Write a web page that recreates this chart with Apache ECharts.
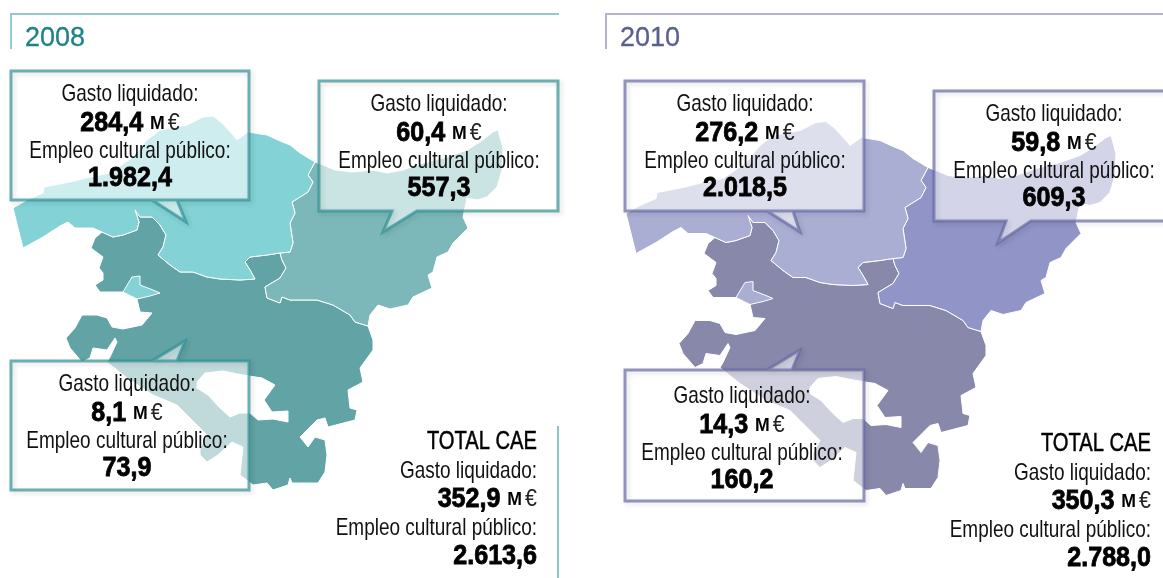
<!DOCTYPE html>
<html lang="es">
<head>
<meta charset="utf-8">
<title>Gasto liquidado y empleo cultural público</title>
<script src="https://cdn.jsdelivr.net/npm/echarts@6/dist/echarts.min.js"></script>
<style>
html, body { margin: 0; padding: 0; background: #fff; }
#main { width: 1163px; height: 578px; }
</style>
</head>
<body>
<div id="main"></div>
<script>
// datos
var years = ['2008', '2010'];
var regions = ['Bizkaia', 'Gipuzkoa', 'Araba'];
var gasto2008 = [284.4, 60.4, 8.1];
var empleo2008 = [1982.4, 557.3, 73.9];
var gasto2010 = [276.2, 59.8, 14.3];
var empleo2010 = [2018.5, 609.3, 160.2];
var totalGasto = [352.9, 350.3];
var totalEmpleo = [2613.6, 2788.0];

// contornos (base cartografica, x / y de la imagen)
var bizkaiaOutline = [[13,208],[27,200],[43,193],[44,187],[70,182],[90,177],[110,173],[133,157],[147,140],[160,130],[187,125],[203,117],[213,116],[222,123],[233,135],[237,140],[248,132],[267,135],[280,141],[290,145],[300,153],[315,162],[308,175],[313,182],[308,192],[292,202],[295,213],[290,223],[293,243],[290,252],[280,253],[267,255],[250,257],[245,262],[250,270],[255,279],[240,280],[220,279],[207,277],[193,272],[180,272],[170,265],[158,255],[163,247],[166,235],[160,225],[152,217],[140,217],[135,210],[139,222],[137,230],[123,235],[113,237],[102,232],[93,228],[75,228],[68,222],[60,226],[43,237],[23,248]];
var bizkaiaEnclave = [[123,292],[132,277],[140,276],[140,285],[153,290],[160,293],[150,296],[137,299]];
var gipuzkoaOutline = [[315,162],[323,165],[335,170],[352,172],[373,170],[387,173],[403,170],[423,163],[447,157],[467,150],[480,142],[493,132],[498,130],[503,148],[502,170],[497,187],[487,197],[477,200],[467,198],[463,217],[468,228],[453,243],[448,252],[437,257],[433,272],[428,275],[432,288],[413,297],[408,305],[390,309],[378,305],[370,315],[368,326],[355,322],[350,315],[333,305],[317,300],[290,300],[282,297],[280,303],[267,298],[265,287],[280,278],[286,268],[282,260],[280,253],[290,252],[293,243],[290,223],[295,213],[292,202],[308,192],[313,182],[308,175]];
var arabaOutline = [[135,210],[140,217],[152,217],[160,225],[166,235],[163,247],[158,255],[170,265],[180,272],[193,272],[207,277],[220,279],[240,280],[255,279],[250,270],[245,262],[250,257],[267,255],[280,253],[282,260],[286,268],[280,278],[265,287],[267,298],[280,303],[282,297],[290,300],[317,300],[333,305],[350,315],[355,322],[368,326],[373,340],[373,350],[360,368],[363,382],[348,390],[350,408],[357,410],[355,420],[328,427],[325,418],[317,420],[307,430],[300,437],[308,447],[315,437],[325,440],[327,455],[325,472],[318,483],[292,483],[290,478],[288,485],[273,490],[267,483],[253,485],[240,475],[243,447],[232,442],[218,455],[207,462],[200,455],[200,448],[207,435],[187,415],[177,405],[153,395],[127,378],[107,362],[110,357],[117,342],[115,338],[107,350],[93,348],[90,358],[82,362],[70,348],[66,338],[75,328],[82,315],[97,315],[107,318],[112,327],[123,329],[142,325],[152,313],[140,312],[137,299],[123,292],[100,292],[95,285],[103,280],[103,273],[99,268],[103,257],[91,248],[95,238],[102,232],[113,237],[123,235],[137,230],[139,222]];
// el hueco va en sentido contrario al contorno
var arabaHole = [[197,388],[208,395],[220,408],[230,417],[240,413],[250,413],[258,420],[273,419],[288,422],[288,411],[272,412],[264,400],[275,385],[262,378],[243,375],[223,371],[205,373],[197,382]];

var colors2008 = ['#82d2d6', '#7cb8ba', '#62a3a5'];
var colors2010 = ['#aaaed3', '#9194c6', '#8889aa'];

function toGeo(ring) {
	return ring.map(function (p) { return [p[0], -p[1]]; });
}
var caeGeo = {
	type: 'FeatureCollection',
	features: [
		{ type: 'Feature', properties: { name: 'Araba' }, geometry: { type: 'Polygon', coordinates: [toGeo(arabaOutline), toGeo(arabaHole)] } },
		{ type: 'Feature', properties: { name: 'Gipuzkoa' }, geometry: { type: 'Polygon', coordinates: [toGeo(gipuzkoaOutline)] } },
		{ type: 'Feature', properties: { name: 'Bizkaia' }, geometry: { type: 'MultiPolygon', coordinates: [[toGeo(bizkaiaOutline)], [toGeo(bizkaiaEnclave)]] } }
	]
};
// dos nombres: si no, echarts junta las series del mismo mapa
echarts.registerMap('cae2008', caeGeo);
echarts.registerMap('cae2010', caeGeo);

function fmt(v) {
	var parts = v.toFixed(1).split('.');
	return parts[0].replace(/\B(?=(\d{3})+$)/g, '.') + ',' + parts[1];
}

function mapSeries(name, values, colors, dx, dy) {
	return {
		type: 'map',
		map: name,
		silent: true,
		roam: false,
		aspectScale: 1,
		left: 13 + dx,
		top: 116 + dy,
		width: 490,
		height: 374,
		label: { show: false },
		itemStyle: { borderColor: '#fff', borderWidth: 1 },
		data: regions.map(function (r, i) {
			return { name: r, value: values[i], itemStyle: { areaColor: colors[i] } };
		})
	};
}

var SANS = '"Liberation Sans", sans-serif';
var valueRich = {
	n: { fontFamily: SANS, fontWeight: 'bold', fontSize: 27, fill: '#000', stroke: '#000', lineWidth: 0.8 },
	m: { fontFamily: SANS, fontWeight: 'bold', fontSize: 19, fill: '#000', padding: [0, 0, 0, 4] },
	e: { fontFamily: SANS, fontSize: 23, fill: '#222' }
};

function textLine(txt, x, y, align) {
	return { type: 'text', z: 12, silent: true, x: x, y: y + 1, scaleX: 0.79, style: { text: txt, x: 0, y: 0, align: align, verticalAlign: 'middle', fontFamily: SANS, fontSize: 24, fill: '#111' } };
}
function richLine(txt, x, y, align) {
	return { type: 'text', z: 12, silent: true, x: x, y: y + 2, scaleX: 0.93, style: { text: txt, x: 0, y: 0, align: align, verticalAlign: 'middle', rich: valueRich } };
}

// recuadro con pico: b = [izq, arriba, der, abajo], t = pico
function callout(b, t, stroke) {
	var pts = t.y > b[3]
		? [[b[0], b[1]], [b[2], b[1]], [b[2], b[3]], [t.a, b[3]], [t.x, t.y], [t.b, b[3]], [b[0], b[3]]]
		: [[b[0], b[1]], [t.b, b[1]], [t.x, t.y], [t.a, b[1]], [b[2], b[1]], [b[2], b[3]], [b[0], b[3]]];
	return [
		{ type: 'polygon', z: 10, silent: true, shape: { points: pts }, style: { fill: 'rgba(255,255,255,0.6)' } },
		{ type: 'polygon', z: 11, silent: true, shape: { points: pts }, style: { fill: 'none', stroke: stroke, lineWidth: 3, shadowBlur: 5, shadowOffsetX: 2, shadowOffsetY: 2, shadowColor: 'rgba(0,0,0,0.18)' } }
	];
}

function box(b, t, cx, y0, gasto, empleo, stroke) {
	return callout(b, t, stroke).concat([
		textLine('Gasto liquidado:', cx, y0, 'center'),
		richLine('{n|' + fmt(gasto) + '} {m|M} {e|€}', cx, y0 + 29, 'center'),
		textLine('Empleo cultural público:', cx, y0 + 57, 'center'),
		richLine('{n|' + fmt(empleo) + '}', cx, y0 + 84, 'center')
	]);
}

function totals(i, x, y) {
	return [
		{ type: 'text', z: 12, silent: true, x: x, y: y + 1, scaleX: 0.775, style: { text: 'TOTAL CAE', x: 0, y: 0, align: 'right', verticalAlign: 'middle', fontFamily: SANS, fontSize: 26, fill: '#000', stroke: '#000', lineWidth: 0.5 } },
		textLine('Gasto liquidado:', x, y + 29, 'right'),
		richLine('{n|' + fmt(totalGasto[i]) + '} {m|M} {e|€}', x, y + 57, 'right'),
		textLine('Empleo cultural público:', x, y + 86, 'right'),
		richLine('{n|' + fmt(totalEmpleo[i]) + '}', x, y + 114, 'right')
	];
}

function frame(x0, x1, color) {
	return { type: 'polyline', z: 5, silent: true, shape: { points: [[x0, 49], [x0, 14], [x1, 14]] }, style: { fill: 'none', stroke: color, lineWidth: 2 } };
}
function title(txt, x, color) {
	return { type: 'text', z: 5, silent: true, style: { text: txt, x: x, y: 39, verticalAlign: 'middle', fontFamily: SANS, fontSize: 27, fill: color, stroke: color, lineWidth: 0.3 } };
}

var teal = 'rgba(49,146,149,0.7)', violet = 'rgba(102,106,164,0.7)';
var elements = [
	frame(11, 559, '#93c9ca'),
	frame(606, 1163, '#b0b2d0'),
	title(years[0], 25, '#1f8287'),
	title(years[1], 620, '#5a5f92'),
	{ type: 'line', z: 5, silent: true, shape: { x1: 558, y1: 426, x2: 558, y2: 578 }, style: { stroke: '#8cc5c6', lineWidth: 2 } }
].concat(
	box([11, 71, 249, 200], { a: 152, b: 177, x: 186, y: 222 }, 130, 93, gasto2008[0], empleo2008[0], teal),
	box([319, 81, 558, 211], { a: 417, b: 392, x: 383, y: 232 }, 439, 103, gasto2008[1], empleo2008[1], teal),
	box([11, 361, 249, 490], { a: 152, b: 177, x: 185, y: 341 }, 127, 383, gasto2008[2], empleo2008[2], teal),
	box([625, 81, 864, 211], { a: 767, b: 793, x: 800, y: 232 }, 745, 103, gasto2010[0], empleo2010[0], violet),
	box([934, 91, 1175, 221], { a: 1031, b: 1006, x: 998, y: 243 }, 1054, 113, gasto2010[1], empleo2010[1], violet),
	box([625, 370, 864, 501], { a: 767, b: 792, x: 800, y: 350 }, 742, 395, gasto2010[2], empleo2010[2], violet),
	totals(0, 537, 441),
	totals(1, 1151, 443)
);

var chart = echarts.init(document.getElementById('main'), null, { renderer: 'canvas' });
chart.setOption({
	animation: false,
	backgroundColor: '#fff',
	tooltip: { show: false },
	series: [
		mapSeries('cae2008', gasto2008, colors2008, 0, 0),
		mapSeries('cae2010', gasto2010, colors2010, 613, 5.5)
	],
	graphic: { elements: elements }
});
</script>
</body>
</html>
